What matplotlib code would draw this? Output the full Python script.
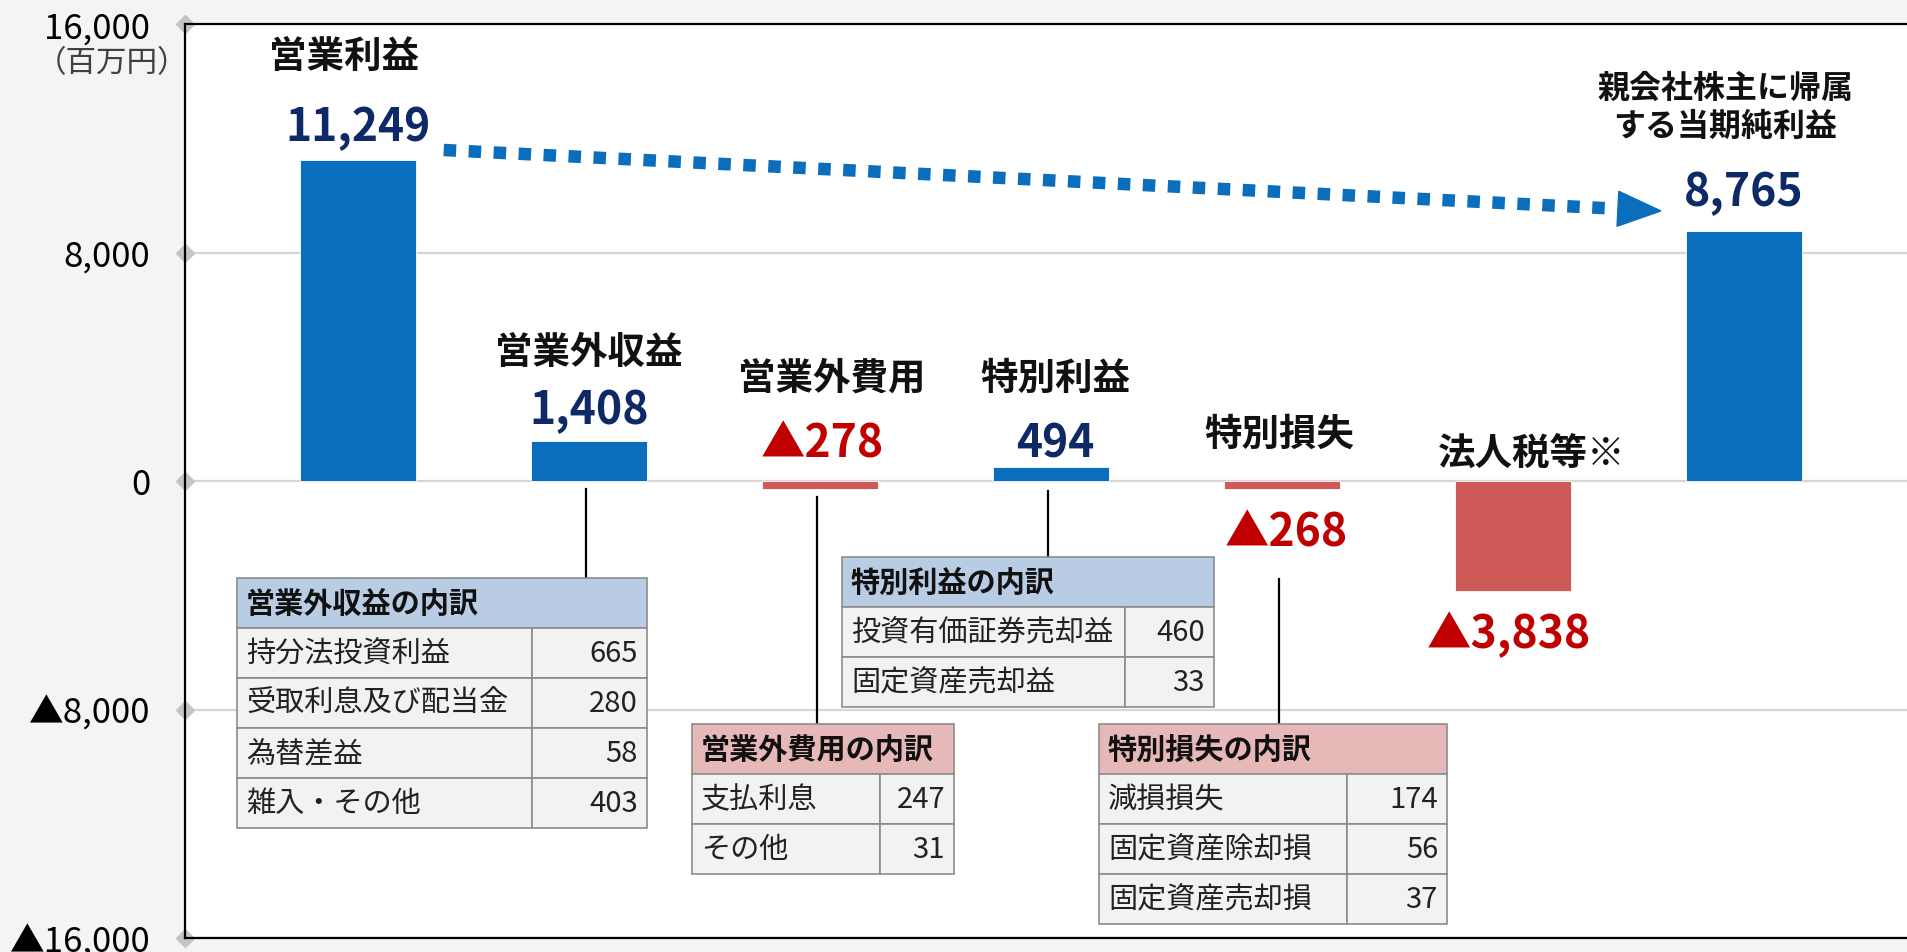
import numpy as np
import matplotlib
matplotlib.use("Agg")
import matplotlib.pyplot as plt
from matplotlib.patches import Rectangle, Polygon
from matplotlib.transforms import IdentityTransform

plt.rcParams['font.family'] = ['Noto Sans CJK JP', 'DejaVu Sans']

# --- data ---
categories = ['営業利益', '営業外収益', '営業外費用', '特別利益', '特別損失',
              '法人税等※', '親会社株主に帰属\nする当期純利益']
values = [11249, 1408, -278, 494, -268, -3838, 8765]

y_ticks = [-16000, -8000, 0, 8000, 16000]
y_tick_labels = ['▲16,000', '▲8,000', '0', '8,000', '16,000']

t1_title = '営業外収益の内訳'
t1_items = ['持分法投資利益', '受取利息及び配当金', '為替差益', '雑入・その他']
t1_vals = [665, 280, 58, 403]

t2_title = '営業外費用の内訳'
t2_items = ['支払利息', 'その他']
t2_vals = [247, 31]

t3_title = '特別利益の内訳'
t3_items = ['投資有価証券売却益', '固定資産売却益']
t3_vals = [460, 33]

t4_title = '特別損失の内訳'
t4_items = ['減損損失', '固定資産除却損', '固定資産売却損']
t4_vals = [174, 56, 37]

# --- layout ---
W, H = 1908, 953
BLUE = '#0a6ebd'
RED = '#cd5a57'
NAVY = '#0d2a66'
DARKRED = '#c00000'

# label positions (offset in x, y in data units)
cat_pos = [(-0.06, 14900), (0.0, 4520), (0.05, 3640), (0.02, 3640),
           (-0.01, 1680), (0.08, 1020), (-0.08, 13100)]
val_pos = [(0.0, 12400), (0.0, 2490), (0.01, 1300), (0.02, 1300),
           (0.02, -1820), (-0.02, -5360), (0.0, 10120)]


def fmt(v):
    return f'{v:,}' if v >= 0 else '▲' + f'{-v:,}'


def draw_table(ov, left, top, mid, right, title, items, vals, head_col):
    rh = 50
    n = len(items)
    ov.add_patch(Rectangle((left, top), right - left, rh, facecolor=head_col,
                           edgecolor='#8c8c8c', lw=1.2, zorder=5))
    ov.text(left + 9, top + rh / 2, title, fontsize=21, fontweight='bold',
            ha='left', va='center', color='#111111', zorder=6)
    for k in range(n):
        y0 = top + rh * (k + 1)
        ov.add_patch(Rectangle((left, y0), mid - left, rh, facecolor='#f2f2f2',
                               edgecolor='#8c8c8c', lw=1.2, zorder=5))
        ov.add_patch(Rectangle((mid, y0), right - mid, rh, facecolor='#f2f2f2',
                               edgecolor='#8c8c8c', lw=1.2, zorder=5))
        ov.text(left + 9, y0 + rh / 2, items[k], fontsize=21,
                ha='left', va='center', color='#222222', zorder=6)
        ov.text(right - 9, y0 + rh / 2, str(vals[k]), fontsize=21,
                ha='right', va='center', color='#222222', zorder=6)


def main():
    fig = plt.figure(figsize=(W / 100, H / 100), dpi=100, facecolor='#f4f4f4')
    ax = fig.add_axes([185 / W, (H - 939) / H, (W - 185) / W, (939 - 25) / H])
    ax.set_facecolor('white')
    x = np.arange(len(values))
    xlim = (-0.75, 6.71)
    ax.set_xlim(*xlim)
    ax.set_ylim(-16000, 16000)

    colors = [BLUE if v >= 0 else RED for v in values]
    ax.bar(x, values, width=0.5, color=colors, edgecolor='white', lw=0.6, zorder=3)

    ax.set_yticks(y_ticks)
    ax.set_yticklabels(y_tick_labels, fontsize=25)
    ax.tick_params(axis='y', length=0, pad=25)
    ax.tick_params(axis='x', bottom=False, labelbottom=False)
    ax.yaxis.grid(True, color='#d6d6d6', lw=1.6)
    ax.set_axisbelow(True)
    for s in ['left', 'top', 'bottom']:
        ax.spines[s].set_linewidth(1.6)
        ax.spines[s].set_color('black')
    ax.spines['right'].set_visible(False)
    ax.plot([xlim[0]] * len(y_ticks), y_ticks, 'D', color='#c4c4c4', ms=9,
            clip_on=False, zorder=2)

    fig.text(112 / W, 1 - 64 / H, '（百万円）', fontsize=22, color='#404040',
             ha='center', va='center')

    # labels
    for i in range(len(values)):
        dx, dy = cat_pos[i]
        fs = 27 if i < 6 else 23
        ax.text(i + dx, dy, categories[i], fontsize=fs, fontweight='bold',
                ha='center', va='center', color='#111111', linespacing=1.25, zorder=6)
        dx, dy = val_pos[i]
        ax.text(i + dx, dy, fmt(values[i]), fontsize=32, fontweight='bold',
                ha='center', va='center',
                color=NAVY if values[i] >= 0 else DARKRED, zorder=6)

    # dotted arrow from first bar to last bar
    start = np.array(ax.transData.transform((0.37, values[0] + 340)))
    tip = np.array(ax.transData.transform((6 - 0.36, values[-1] + 690)))
    d = (tip - start) / np.linalg.norm(tip - start)
    n = np.array([-d[1], d[0]])
    base = tip - 43 * d
    end = base - 12 * d
    ax.add_line(matplotlib.lines.Line2D([start[0], end[0]], [start[1], end[1]],
                                        transform=IdentityTransform(), color=BLUE,
                                        lw=9, dashes=(1, 1), dash_capstyle='butt',
                                        zorder=7))
    ax.add_patch(Polygon([tip, base + 17.5 * n, base - 17.5 * n], closed=True,
                         transform=IdentityTransform(), color=BLUE, zorder=7,
                         clip_on=False))

    # overlay for breakdown tables (pixel coords, y downward)
    ov = fig.add_axes([0, 0, 1, 1])
    ov.set_xlim(0, W)
    ov.set_ylim(H, 0)
    ov.axis('off')
    ov.patch.set_alpha(0)

    def bar_px(i):
        return ax.transData.transform((i, 0))[0] - 3

    # connectors: (bar index, y start, y end) in pixels
    for i, y0, y1 in [(1, 490, 579), (2, 498, 725), (3, 492, 558), (4, 580, 725)]:
        xp = bar_px(i)
        ov.plot([xp, xp], [y0, y1], color='black', lw=1.6, zorder=4)

    draw_table(ov, 237, 579, 532, 647, t1_title, t1_items, t1_vals, '#b8cce4')
    draw_table(ov, 692, 725, 880, 954, t2_title, t2_items, t2_vals, '#e6b8b7')
    draw_table(ov, 842, 558, 1125, 1214, t3_title, t3_items, t3_vals, '#b8cce4')
    draw_table(ov, 1099, 725, 1347, 1447, t4_title, t4_items, t4_vals, '#e6b8b7')

    fig.savefig('out.png', dpi=100, facecolor=fig.get_facecolor())


if __name__ == "__main__":
    main()
